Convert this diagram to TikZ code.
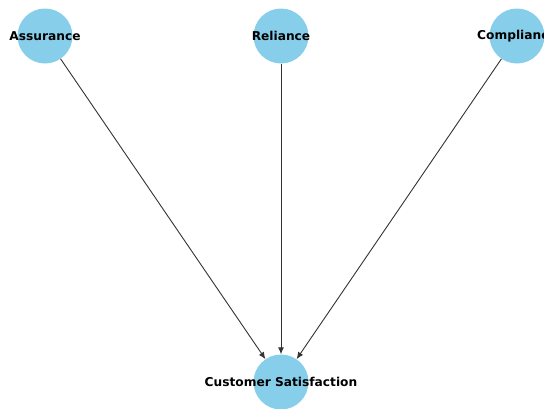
\documentclass[tikz,border=0pt]{standalone}
\usepackage{fontspec}
\setmainfont{DejaVu Sans}
\usetikzlibrary{arrows.meta}
\definecolor{nodeblue}{HTML}{87CEEB}
\definecolor{edgegray}{HTML}{333333}
\tikzset{
  vert/.style={circle, fill=nodeblue, draw=none, minimum size=55pt, inner sep=0pt},
  vlabel/.style={font=\fontsize{12.2}{14}\selectfont\bfseries, text=black, inner sep=0pt},
  conn/.style={draw=edgegray, line width=0.9pt, -{Latex[length=7pt,width=6pt]}}
}
\begin{document}
\begin{tikzpicture}[x=1pt,y=-1pt]
\useasboundingbox (0,0) rectangle (544,408);
\clip (0,0) rectangle (544,408);
\node[vert] (as) at (45,36) {};
\node[vert] (re) at (281,36) {};
\node[vert] (co) at (517,36) {};
\node[vert] (cs) at (281,382) {};
\node[vlabel] (asl) at (as.center) {Assurance};
\node[vlabel] (rel) at (re.center) {Reliance};
\node[vlabel] (col) at (co.center) {Compliance};
\node[vlabel] (csl) at (cs.center) {Customer Satisfaction};
\draw[conn] (as) -- (cs);
\draw[conn] (re) -- (cs);
\draw[conn] (co) -- (cs);
\end{tikzpicture}
\end{document}
